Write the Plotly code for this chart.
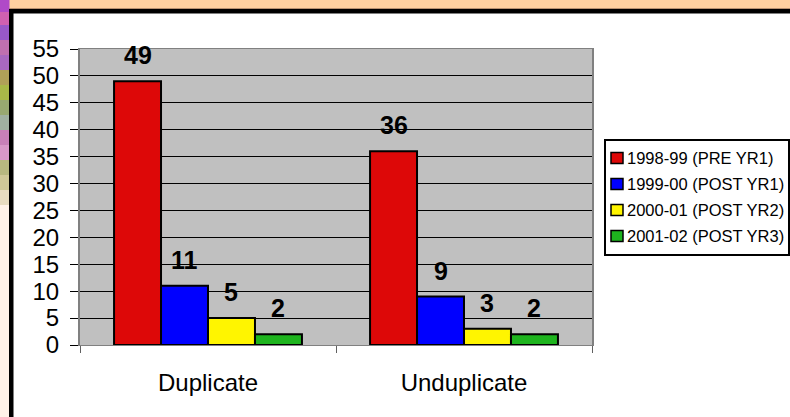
import plotly.graph_objects as go

# Counts per reporting year, for duplicated and unduplicated totals
categories = ["Duplicate", "Unduplicate"]
series_names = ["1998-99 (PRE YR1)", "1999-00 (POST YR1)", "2000-01 (POST YR2)", "2001-02 (POST YR3)"]
values_pre_yr1 = [49, 36]
values_post_yr1 = [11, 9]
values_post_yr2 = [5, 3]
values_post_yr3 = [2, 2]
y_ticks = [0, 5, 10, 15, 20, 25, 30, 35, 40, 45, 50, 55]

series_values = [values_pre_yr1, values_post_yr1, values_post_yr2, values_post_yr3]
colors = ["#DD0808", "#0000FF", "#FFF500", "#1EB41E"]

FONT = "Arial, 'Liberation Sans', sans-serif"

# Page and plot-area geometry in pixels
W, H = 790, 417
ML, MR, MT, MB = 80, 198, 49, 72
pw, ph = W - ML - MR, H - MT - MB
BARGAP = 0.266
n_series = len(series_values)


def px(x):
    return (x - ML) / pw


def py(y):
    return (H - MB - y) / ph


fig = go.Figure()
annotations = []
cat_px = pw / len(categories)
bar_px = cat_px * (1 - BARGAP) / n_series
for i, (name, vals, col) in enumerate(zip(series_names, series_values, colors)):
    fig.add_trace(go.Bar(
        name=name,
        x=categories,
        y=vals,
        marker=dict(color=col, line=dict(color="black", width=2)),
        showlegend=False,
    ))
    # value labels floating above each bar
    for cat, v in zip(categories, vals):
        annotations.append(dict(
            x=cat, y=v, xref="x", yref="y", text=f"<b>{v}</b>", showarrow=False,
            xshift=(i - (n_series - 1) / 2) * bar_px, yshift=26,
            xanchor="center", yanchor="middle",
            font=dict(family=FONT, size=25, color="black"),
        ))

shapes = []
# peach banner along the top
shapes.append(dict(type="rect", xref="paper", yref="paper", x0=px(0), x1=px(W), y0=py(0), y1=py(9),
                   fillcolor="#FFD0A0", line=dict(width=0), layer="below"))
shapes.append(dict(type="rect", xref="paper", yref="paper", x0=px(0), x1=px(W), y0=py(8), y1=py(9),
                   fillcolor="#B89070", line=dict(width=0), layer="below"))
# textured strip on the left edge
strip = [
    (0, 12, "#B04AC8"), (12, 25, "#D060B0"), (25, 40, "#9858C8"), (40, 55, "#C070B0"),
    (55, 70, "#A868C0"), (70, 85, "#B0A058"), (85, 100, "#A8B848"), (100, 115, "#98A870"),
    (115, 130, "#A0B0A0"), (130, 145, "#C880B8"), (145, 160, "#D898C8"), (160, 175, "#B8B880"),
    (175, 190, "#D0C898"), (190, 205, "#E8DCC0"), (205, 417, "#FFF2E8"),
]
for y0, y1, c in strip:
    shapes.append(dict(type="rect", xref="paper", yref="paper", x0=px(0), x1=px(9.5), y0=py(y0), y1=py(y1),
                       fillcolor=c, line=dict(width=0), layer="below"))
# black frame lines (top and left)
shapes.append(dict(type="rect", xref="paper", yref="paper", x0=px(9), x1=px(W), y0=py(9), y1=py(13.5),
                   fillcolor="black", line=dict(width=0), layer="below"))
shapes.append(dict(type="rect", xref="paper", yref="paper", x0=px(9), x1=px(13.5), y0=py(9), y1=py(H),
                   fillcolor="black", line=dict(width=0), layer="below"))

# legend box with one swatch and label per series
LX0, LX1, LY0, LY1 = 605, 789, 140, 255
row_y = [158, 184, 210, 236]
shapes.append(dict(type="rect", xref="paper", yref="paper", x0=px(LX0), x1=px(LX1), y0=py(LY0), y1=py(LY1),
                   fillcolor="white", line=dict(color="black", width=2)))
for name, col, ry in zip(series_names, colors, row_y):
    shapes.append(dict(type="rect", xref="paper", yref="paper",
                       x0=px(611), x1=px(623), y0=py(ry - 5.5), y1=py(ry + 5.5),
                       fillcolor=col, line=dict(color="black", width=1.5)))
    annotations.append(dict(
        x=px(625), y=py(ry), xref="paper", yref="paper", text=name, showarrow=False,
        xanchor="left", yanchor="middle",
        font=dict(family=FONT, size=16.5, color="black"),
    ))

fig.update_layout(
    width=W, height=H,
    margin=dict(l=ML, r=MR, t=MT, b=MB, pad=0, autoexpand=False),
    paper_bgcolor="white",
    plot_bgcolor="#C0C0C0",
    barmode="group",
    bargap=BARGAP,
    bargroupgap=0,
    font=dict(family=FONT, color="black"),
    showlegend=False,
    shapes=shapes,
    annotations=annotations,
    xaxis=dict(
        showline=True, linecolor="#808080", linewidth=1, mirror=True,
        ticks="outside", tickson="boundaries", ticklen=7, tickcolor="#606060",
        tickfont=dict(family=FONT, size=24, color="black"),
        ticklabelstandoff=16,
        showgrid=False,
    ),
    yaxis=dict(
        range=[0, 55], tickvals=y_ticks,
        showline=True, linecolor="#808080", linewidth=2, mirror=True,
        ticks="outside", ticklen=8, tickcolor="black",
        tickfont=dict(family=FONT, size=24, color="black"),
        ticklabelstandoff=6,
        showgrid=True, gridcolor="black", gridwidth=1,
        zeroline=True, zerolinecolor="black", zerolinewidth=1,
    ),
)

fig.write_html("out.html")
